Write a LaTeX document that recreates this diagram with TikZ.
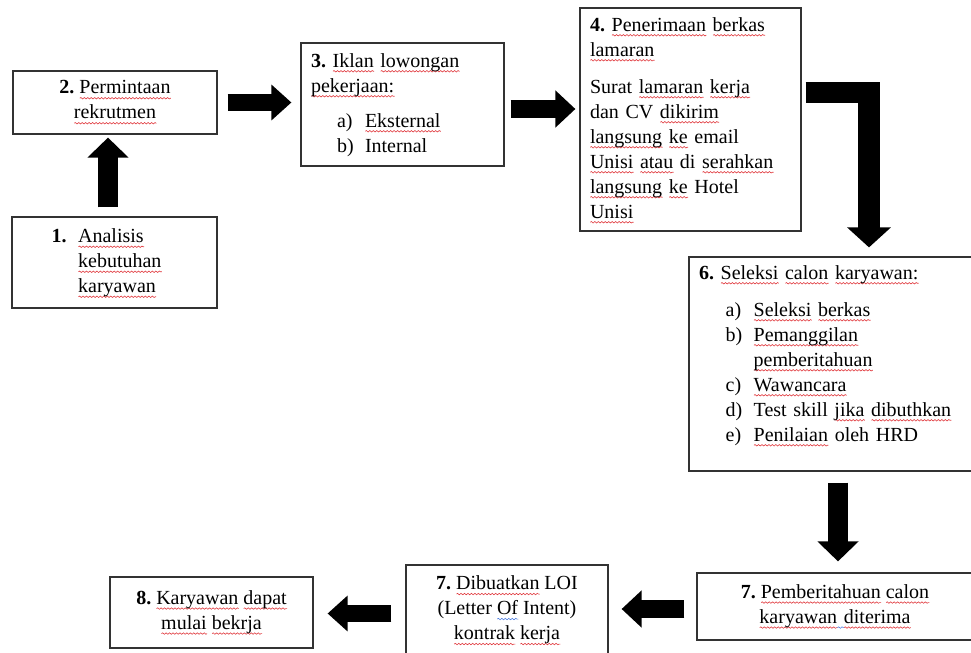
\documentclass[tikz,border=0pt]{standalone}
\usepackage{fontspec}
\setmainfont{Liberation Serif}
\usepackage{tikz}
\usetikzlibrary{arrows.meta,calc,decorations.pathmorphing}
\definecolor{spellRed}{HTML}{E0393E}
\definecolor{spellBlue}{HTML}{4F7FE0}
\newlength{\spellw}
\newcommand{\wavy}[2]{\settowidth{\spellw}{#2}\rlap{\tikz[baseline=0pt]\draw[#1,line width=0.45pt,decorate,decoration={snake,amplitude=0.55pt,segment length=2.6pt}] (0pt,-3.2pt) -- (\spellw,-3.2pt);}#2}
\newcommand{\spell}[1]{\wavy{spellRed}{#1}}
\newcommand{\gram}[1]{\wavy{spellBlue}{#1}}
\frenchspacing

\begin{document}
\begin{tikzpicture}[x=0.75pt,y=-0.75pt,
  font=\fontsize{15}{18.75}\selectfont\frenchspacing,
  box/.style={draw=black!80,line width=0.9pt,align=center},
  lbox/.style={draw=black!80,line width=0.9pt,align=left,inner xsep=7.5pt,inner ysep=0pt},
  blk/.style={line width=#1,line join=miter,-{Triangle[width=0pt 2,length=15pt]}}]
\useasboundingbox (0,0) rectangle (971,653);
\node[box,minimum width=153.75pt,minimum height=68.25pt] (b1) at (114.5,262.5)
  {\begin{tabular}{@{}p{20pt}@{}l@{\hspace{12pt}}}
   \textbf{1.} & \spell{Analisis}\\
               & \spell{kebutuhan}\\
               & \spell{karyawan}
   \end{tabular}};
\node[box,minimum width=153pt,minimum height=47.25pt] (b2) at (115,102.5)
  {\textbf{2.} \spell{Permintaan}\\ \spell{rekrutmen}};
\node[lbox,text width=137.25pt,minimum height=92.25pt] (b3) at (402.5,104.5)
  {\noindent\begin{tabular}{@{\hspace{19.5pt}}p{21pt}@{}l@{}}
   \multicolumn{2}{@{}l@{}}{\textbf{3.} \spell{Iklan} \spell{lowongan}}\\
   \multicolumn{2}{@{}l@{}}{\spell{pekerjaan:}}\\[7.5pt]
   a) & \spell{Eksternal}\\
   b) & Internal
   \end{tabular}};
\node[lbox,text width=150.75pt,minimum height=167.25pt] (b4) at (690.5,119.5)
  {\noindent\begin{tabular}{@{}l@{}}
   \textbf{4.} \spell{Penerimaan} \spell{berkas}\\
   \spell{lamaran}\\[9pt]
   Surat \spell{lamaran} \spell{kerja}\\
   dan CV \spell{dikirim}\\
   \spell{langsung} \spell{ke} email\\
   \spell{Unisi} \spell{atau} di \spell{serahkan}\\
   \spell{langsung} \spell{ke} Hotel\\
   \spell{Unisi}
   \end{tabular}};
\node[lbox,text width=198pt,minimum height=160.5pt] (b6) at (831,364)
  {\noindent\begin{tabular}{@{\hspace{20pt}}p{21pt}@{}l@{}}
   \multicolumn{2}{@{}l@{}}{\textbf{6.} \spell{Seleksi} \spell{calon} \spell{karyawan:}}\\[9pt]
   a) & \spell{Seleksi} \spell{berkas}\\
   b) & \spell{Pemanggilan}\\
      & \spell{pemberitahuan}\\
   c) & \spell{Wawancara}\\
   d) & Test skill \spell{jika} \spell{dibuthkan}\\
   e) & \spell{Penilaian} oleh HRD\\[13.5pt]
   \end{tabular}};
\node[box,minimum width=207pt,minimum height=50.25pt] (b7r) at (835,606.5)
  {\textbf{7.} \spell{Pemberitahuan} \spell{calon}\\ \spell{karyawan}\gram{\hspace*{5pt}}\spell{diterima}};
\node[box,minimum width=151.5pt,minimum height=68.25pt] (b7) at (507,610.5)
  {\textbf{7.} \spell{Dibuatkan} LOI\\ (Letter \gram{Of} Intent)\\ \spell{kontrak} \spell{kerja}};
\node[box,minimum width=152.25pt,minimum height=53.25pt] (b8) at (211.5,612.5)
  {\textbf{8.} \spell{Karyawan} \spell{dapat}\\ \spell{mulai} \spell{bekrja}};
\draw[blk=15pt] ($(b1.north)+(-6.5,-9)$) -- ($(b2.south)+(-7,3)$);
\draw[blk=13pt] ($(b2.east)+(10,0)$) -- ($(b3.west)+(-9,-2)$);
\draw[blk=13.5pt] ($(b3.east)+(6,4.5)$) -- ($(b4.west)+(-4,-10.5)$);
\draw[blk=16pt] ($(b4.east)+(4,-27)$) -| ($(b6.north)+(38,-9)$);
\draw[blk=15pt] ($(b6.south)+(7,11)$) -- ($(b7r.north)+(3,-11)$);
\draw[blk=13.5pt] ($(b7r.west)+(-12,2.5)$) -- ($(b7.east)+(13,-1.5)$);
\draw[blk=13pt] ($(b7.west)+(-14,3)$) -- ($(b8.east)+(14,1)$);
\end{tikzpicture}
\end{document}
